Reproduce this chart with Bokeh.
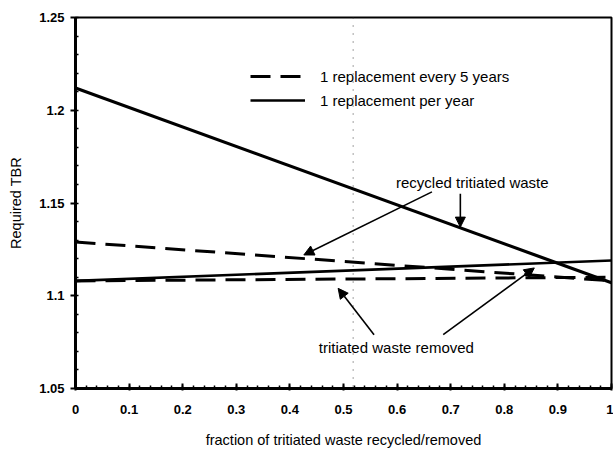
from bokeh.plotting import figure
from bokeh.models import (Legend, LegendItem, Label, Arrow, NormalHead, Span,
                          FixedTicker, Range1d)
from bokeh.embed import file_html
from bokeh.resources import INLINE

# fraction of tritiated waste recycled / removed
fraction = [0.0, 1.0]

# required TBR, one replacement per year
tbr_year_recycled = [1.212, 1.107]
tbr_year_removed = [1.108, 1.119]

# required TBR, one replacement every 5 years
tbr_5yr_recycled = [1.129, 1.108]
tbr_5yr_removed = [1.108, 1.110]

x_ticks = [0, 0.1, 0.2, 0.3, 0.4, 0.5, 0.6, 0.7, 0.8, 0.9, 1.0]
x_tick_labels = ["0", "0.1", "0.2", "0.3", "0.4", "0.5", "0.6", "0.7", "0.8", "0.9", "1"]
y_ticks = [1.05, 1.1, 1.15, 1.2, 1.25]
y_tick_labels = ["1.05", "1.1", "1.15", "1.2", "1.25"]

FONT = "Liberation Sans"

p = figure(width=613, height=454, output_backend="svg", toolbar_location=None,
           x_range=Range1d(0, 1), y_range=Range1d(1.05, 1.25),
           min_border_left=75, min_border_right=2, min_border_top=17,
           min_border_bottom=66)
p.grid.visible = False
p.outline_line_color = "black"
p.outline_line_width = 2
p.background_fill_color = "white"
p.border_fill_color = "white"

# axes
p.xaxis.ticker = FixedTicker(ticks=x_ticks,
                             minor_ticks=[i / 50 for i in range(51)])
p.xaxis.major_label_overrides = {t: l for t, l in zip(x_ticks, x_tick_labels)}
p.yaxis.ticker = FixedTicker(ticks=y_ticks,
                             minor_ticks=[1.05 + i / 100 for i in range(21)])
p.yaxis.major_label_overrides = {t: l for t, l in zip(y_ticks, y_tick_labels)}

for ax in (p.xaxis[0], p.yaxis[0]):
    ax.axis_line_width = 3
    ax.axis_line_color = "black"
    ax.major_tick_line_width = 2
    ax.minor_tick_line_width = 1.5
    ax.major_label_text_font = FONT
    ax.major_label_text_font_style = "bold"
    ax.major_label_text_font_size = "13px"
    ax.major_label_text_color = "black"
    ax.axis_label_text_font = FONT
    ax.axis_label_text_font_style = "normal"
    ax.axis_label_text_font_size = "14.5px"
    ax.axis_label_text_color = "black"

p.xaxis.major_tick_in = 5
p.xaxis.major_tick_out = 2
p.xaxis.minor_tick_in = 3
p.xaxis.minor_tick_out = 0
p.xaxis.major_label_standoff = 14
p.xaxis.axis_label = "fraction of tritiated waste recycled/removed"
p.xaxis.axis_label_standoff = 15

p.yaxis.major_tick_in = 0
p.yaxis.major_tick_out = 5
p.yaxis.minor_tick_in = 3
p.yaxis.minor_tick_out = 0
p.yaxis.major_label_standoff = 6
p.yaxis.axis_label = "Required TBR"
p.yaxis.axis_label_standoff = 12

# faint fold line running down the sheet
p.add_layout(Span(location=0.518, dimension="height", line_color="#444444",
                  line_width=1, line_dash="1 7"))

# curves
r_5yr_rec = p.line(fraction, tbr_5yr_recycled, line_color="black",
                   line_width=3, line_dash="20 10")
r_5yr_rem = p.line(fraction, tbr_5yr_removed, line_color="black",
                   line_width=3, line_dash="20 10")
r_yr_rec = p.line(fraction, tbr_year_recycled, line_color="black", line_width=3.2)
r_yr_rem = p.line(fraction, tbr_year_removed, line_color="black", line_width=2.6)

legend = Legend(items=[
    LegendItem(label="1 replacement every 5 years", renderers=[r_5yr_rec]),
    LegendItem(label="1 replacement per year", renderers=[r_yr_rem]),
], location=(175, 278), orientation="vertical",
    glyph_width=55, glyph_height=20, label_height=20, spacing=4,
    label_standoff=15, padding=0, margin=0,
    border_line_color=None, background_fill_alpha=0,
    label_text_font=FONT, label_text_font_size="15px",
    label_text_color="black")
p.add_layout(legend, "center")

# annotations
for txt, lx, ly in [("recycled tritiated waste", 0.598, 1.161),
                    ("tritiated waste removed", 0.454, 1.072)]:
    p.add_layout(Label(x=lx, y=ly, text=txt, text_font=FONT,
                       text_font_size="15px", text_baseline="middle",
                       text_color="black"))

arrows = [
    (0.665, 1.156, 0.426, 1.122),
    (0.718, 1.155, 0.718, 1.137),
    (0.557, 1.079, 0.490, 1.104),
    (0.686, 1.079, 0.856, 1.115),
]
for x0, y0, x1, y1 in arrows:
    p.add_layout(Arrow(x_start=x0, y_start=y0, x_end=x1, y_end=y1,
                       line_color="black", line_width=1.6,
                       end=NormalHead(size=10, fill_color="black",
                                      line_color="black")))

open("out.html", "w").write(file_html(p, INLINE))
